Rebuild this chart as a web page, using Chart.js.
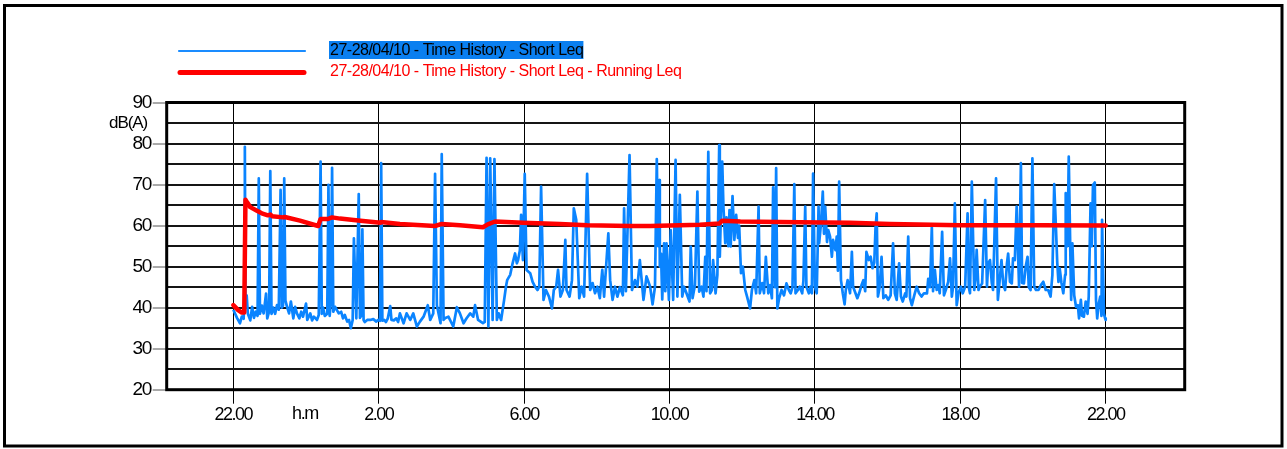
<!DOCTYPE html>
<html><head><meta charset="utf-8">
<script src="https://cdn.jsdelivr.net/npm/chart.js@4.4.1/dist/chart.umd.min.js"></script>
<style>html,body{margin:0;padding:0;background:#fff;}canvas{display:block;}</style>
</head><body>
<canvas id="c" width="1287" height="449"></canvas>
<script>
// ---- data ----
const legendLabels = ['27-28/04/10 - Time History - Short Leq', '27-28/04/10 - Time History - Short Leq - Running Leq'];
const yAxisLabel = 'dB(A)';
const xAxisLabel = 'h.m';
// x tick positions in minutes after 22:00 on 27/04
const xTickMinutes = [0, 240, 480, 720, 960, 1200, 1440];
const xTickLabels = ['22.00', '2.00', '6.00', '10.00', '14.00', '18.00', '22.00'];
const yMajorTicks = [20, 30, 40, 50, 60, 70, 80, 90];

// Short Leq: minutes after 22:00, level dB(A)
const shortLeqMinutes = [
  0,3,6,11,14,17,18,19,20,22,24,28,31,34,37,40,42,44,47,50,
  52,54,56,59,61,63,66,69,72,75,78,80,82,84,86,89,92,95,99,102,
  105,109,112,115,120,122,127,130,133,138,141,144,146,148,151,155,157,159,161,163,
  165,168,171,174,178,181,184,188,191,194,197,199,203,207,209,211,213,215,217,221,
  226,231,236,239,242,244,246,249,252,255,259,261,265,269,272,
  275,281,286,292,297,303,308,314,321,325,330,333,336,342,344,347,350,355,363,369,
  374,380,385,391,396,399,404,412,415,418,421,424,428,431,435,438,442,447,450,452,
  457,461,465,468,470,473,475,478,481,484,490,494,498,502,505,508,512,516,521,526,529,
  533,536,540,544,548,550,555,559,562,566,571,575,579,584,589,593,597,601,605,609,612,
  619,622,626,630,634,638,643,645,648,654,658,663,667,671,
  677,682,688,692,696,699,701,703,704,706,708,711,713,715,719,722,726,730,733,737,
  741,744,748,753,755,758,762,766,769,773,776,779,781,784,787,790,792,796,799,802,
  803,807,809,812,814,817,819,821,824,827,830,833,835,838,841,845,848,853,856,860,
  863,867,869,873,876,879,883,886,889,891,894,896,898,901,905,909,913,917,920,923,
  926,928,932,935,939,941,944,946,950,953,955,957,960,963,966,967,970,973,975,977,
  980,982,985,988,990,994,996,998,1000,1003,1006,1009,1011,1014,1018,1021,1023,1027,1030,1033,
  1037,1040,1043,1045,1049,1052,1055,1058,1060,1062,1064,
  1067,1070,1073,1077,1081,1085,1089,1092,1095,1099,1102,1105,1109,1111,1114,1117,1120,1124,1128,1132,
  1136,1140,1145,1147,1150,1153,1155,1158,1161,1164,1166,1170,1173,1176,1180,1183,1186,1188,1191,1194,
  1197,1201,1204,1208,1212,1214,1216,1219,1223,1225,1227,1230,1232,1236,1241,1244,1246,1249,1252,1254,
  1259,1262,1264,1268,1271,1274,1277,1279,1282,1285,1287,1290,1293,1296,1297,1300,1302,1305,1308,1311,
  1313,1316,1319,1322,1325,1329,1333,1337,1341,1345,1349,1352,1355,1358,1360,1362,1364,1367,1370,1373,
  1374,1377,1379,1382,1383,1385,1388,1391,1394,1396,1399,1401,1404,1407,1410,1412,1415,1417,1419,1422,
  1424,1426,1428,1431,1433,1434,1437,1439,1440
];
const shortLeqDb = [
  39.5,38.5,37.5,36.2,37.8,37.3,42,79.2,41,43,38.5,36.9,40.2,37.5,39,38,71.5,38.5,40.5,38.6,
  41,43.4,37.4,39,73.3,38.5,40,38.5,40.6,39.5,68.7,40,40.5,71.5,41.7,40,38.6,41.5,37.4,40.2,
  38.6,37.4,39,37.8,41,37,38.6,36.9,37.8,37,38.2,75.6,38.5,40,38,38.5,69.9,38,41.5,74.1,
  39,40.2,39.4,38.6,39,37.4,38.2,36.6,37,35,37,56.9,37.4,67.7,37.5,38,59.1,37,36.5,37,
  37,37.2,36.6,37,36.8,75.2,36.8,37,36.5,37.4,40.4,37,36.9,37.4,36.5,
  38.6,36.2,38.6,37.0,38.6,35.4,36.6,37.8,40.6,37.0,38.6,72.6,40.6,36.2,77.4,37.0,37.5,37.8,35.4,40.1,
  38.6,36.2,37.4,38.6,37.8,40.6,37.0,36.2,36.5,76.5,35.4,76.4,37.0,76.2,37.0,38.6,37.0,41.9,45.1,46.7,
  48.0,50.8,53.2,50.8,51.6,54.0,62.6,51.6,72.6,49.2,48.4,46.3,45.1,44.3,45.1,69.5,41.9,44.3,42.7,39.8,44.3,
  45.1,49.2,42.7,44.3,56.5,44.3,42.7,46.7,64.2,61.4,42.3,45.1,42.7,72.6,44.3,46.0,43.5,45.1,42.3,49.2,42.7,
  58.1,46.7,41.9,45.1,42.7,45.0,43.0,64.2,44.0,77.2,44.3,46.7,45.1,51.6,
  41.9,47.6,45.1,40.8,45.1,76.2,55,71.1,50,53.2,42,55.7,44,55.7,41.9,58.9,41.9,76.0,42.7,67.5,
  42.7,45.1,43.5,41.5,54.9,42.3,45.5,68.3,43.9,45.1,42.7,52.4,44,78.0,43.5,44.3,51.6,43.5,48,79.6,
  52.4,75.6,64.6,55.7,62,55,63.8,54.9,67.2,56.5,62.6,57,60,48.4,50,44.3,42.7,39.8,44.3,46.7,
  43.5,64.6,43.5,46,43.5,52.4,43.5,45.5,42.3,69.3,45,74.0,39.8,42.3,44.3,43,45.9,44.3,43.5,45,
  70.1,43.5,44.3,45.1,43.5,46.5,64.6,45.1,43.5,45.1,43.5,72.7,45.1,43.5,64.6,55.7,60.5,68.3,58,64.6,
  56,58.9,57.3,52.4,56.5,54,57.3,49,70.7,46.7,43.5,40.8,44.3,46.7,43.5,53.6,45.1,43.5,42.3,43.5,
  45.5,46.7,44,53.6,51.6,52.4,49.6,51,59.3,63.0,42.7,
  45.1,52.4,42.3,43,41.9,43,55.7,43.5,41.9,50.8,42.7,41.5,43.5,42.7,57.3,42.3,40.6,43,45.1,43.5,
  42.7,43.5,43.5,47,45,59.7,44,49.2,44.3,45.5,43.5,58.5,43,44.3,46.3,52,42.7,45,65.4,40.6,
  43.5,45.1,43.5,45.1,63.0,45,43.5,70.7,44.3,47,54.1,44.3,45.1,45.9,66.2,45.1,50.8,51.6,46,44.3,
  71.5,41.9,45,51.6,45.5,44.3,50.8,53.2,46.3,45.9,52,51.6,64.6,50,45.1,75.2,46,45.9,50,52.4,
  45,44.3,76.4,45.1,44.3,44.3,45.5,46.3,44.3,44.3,42.7,48,70.1,58.9,51,46.3,49.6,46,43.5,48,
  67.9,55,76.8,50,41.9,55.7,43,40.2,40.6,37.4,41.9,38,37.8,41.5,38.5,42.7,65.4,55,69.9,70.5,
  41.9,37.4,40.5,42.7,38,61.4,38.6,37.4,37.0
];

// Running Leq: minutes after 22:00, level dB(A)
const runningLeqMinutes = [0,8,14,18,20,23,28,39,47,57,61,64,82,85,110,140,144,156,163,176,
  210,243,244,275,333,344,374,412,420,432,478,539,584,655,688,770,802,807,837,935,
  1018,1084,1200,1332,1440];
const runningLeqDb = [40.6,39.4,38.8,38.8,66.3,65.6,64.5,63.6,63.0,62.5,62.7,62.3,62.0,62.1,61.2,59.9,61.6,61.6,62.0,61.7,
  61.2,60.7,60.9,60.4,59.9,60.4,60.1,59.6,60.3,61.0,60.7,60.4,60.1,59.9,59.9,60.2,60.5,61.2,61.0,60.8,
  60.7,60.4,60.1,60.1,60.0];

// ---- chart ----
const FONT = '"Liberation Sans", Arial, Helvetica, sans-serif';

const decorPlugin = {
  id: 'decor',
  beforeDraw(chart) {
    const ctx = chart.ctx;
    ctx.fillStyle = '#fff';
    ctx.fillRect(0, 0, chart.width, chart.height);
    ctx.letterSpacing = '-1.5px';
  },
  afterDraw(chart) {
    const ctx = chart.ctx, a = chart.chartArea;
    ctx.save();
    ctx.strokeStyle = '#000';
    ctx.lineWidth = 3;
    ctx.strokeRect(4.5, 5.5, 1277.5, 440.5);
    ctx.strokeRect(a.left, a.top, a.right - a.left, a.bottom - a.top);

    // legend
    ctx.lineCap = 'round';
    ctx.strokeStyle = '#1a8cff';
    ctx.lineWidth = 2.2;
    ctx.beginPath(); ctx.moveTo(179, 51); ctx.lineTo(305, 51); ctx.stroke();
    ctx.strokeStyle = '#ff0000';
    ctx.lineWidth = 5;
    ctx.beginPath(); ctx.moveTo(180, 72.5); ctx.lineTo(304, 72.5); ctx.stroke();

    ctx.font = '16px ' + FONT;
    ctx.letterSpacing = '-0.5px';
    ctx.textBaseline = 'middle';
    ctx.textAlign = 'left';
    const w = ctx.measureText(legendLabels[0]).width;
    ctx.fillStyle = '#0a7ff0';
    ctx.fillRect(329, 41, w + 1, 18);
    ctx.fillStyle = '#000';
    ctx.fillText(legendLabels[0], 330, 50.5);
    ctx.fillStyle = '#ff0000';
    ctx.fillText(legendLabels[1], 330, 72);

    // axis titles
    ctx.fillStyle = '#000';
    ctx.font = '17px ' + FONT;
    ctx.letterSpacing = '-1.1px';
    ctx.textAlign = 'right';
    ctx.fillText(yAxisLabel, 147, 123.5);
    ctx.font = '18px ' + FONT;
    ctx.letterSpacing = '-1.3px';
    ctx.textAlign = 'center';
    ctx.fillText(xAxisLabel, 305, 414);
    ctx.restore();
  }
};

new Chart(document.getElementById('c'), {
  type: 'line',
  data: {
    datasets: [
      {
        label: legendLabels[0],
        data: shortLeqMinutes.map((m, i) => ({ x: m, y: shortLeqDb[i] })),
        borderColor: '#0a84ff',
        borderWidth: 2.7,
        pointRadius: 0,
        tension: 0,
        borderJoinStyle: 'round',
        order: 2
      },
      {
        label: legendLabels[1],
        data: runningLeqMinutes.map((m, i) => ({ x: m, y: runningLeqDb[i] })),
        borderColor: '#ff0000',
        borderWidth: 4.5,
        pointRadius: 0,
        tension: 0,
        borderJoinStyle: 'round',
        borderCapStyle: 'round',
        order: 1
      }
    ]
  },
  options: {
    responsive: false,
    animation: false,
    devicePixelRatio: 1,
    layout: { padding: { top: 102.5, right: 102.3, bottom: 0, left: 0 } },
    plugins: { legend: { display: false }, tooltip: { enabled: false } },
    scales: {
      x: {
        type: 'linear',
        min: -110,
        max: 1570.4,
        afterBuildTicks: s => { s.ticks = xTickMinutes.map(v => ({ value: v })); },
        afterFit: s => { s.height = 59.3; },
        ticks: {
          autoSkip: false, maxRotation: 0, minRotation: 0, padding: 1, color: '#000',
          font: { family: FONT, size: 18 },
          callback: (v, i) => xTickLabels[i]
        },
        grid: { color: '#000', lineWidth: 1, tickLength: 14, drawTicks: true },
        border: { display: false }
      },
      y: {
        min: 20,
        max: 90,
        afterFit: s => { s.width = 166.7; },
        ticks: {
          stepSize: 5, autoSkip: false, padding: 2, color: '#000',
          font: { family: FONT, size: 19 },
          callback: v => (yMajorTicks.includes(v) ? String(v) : '')
        },
        grid: {
          color: '#151515', lineWidth: 2, tickLength: 14, tickWidth: 1,
          tickColor: c => (c.tick && yMajorTicks.includes(c.tick.value)) ? '#555' : 'rgba(0,0,0,0)'
        },
        border: { display: false }
      }
    }
  },
  plugins: [decorPlugin]
});
</script>
</body></html>
